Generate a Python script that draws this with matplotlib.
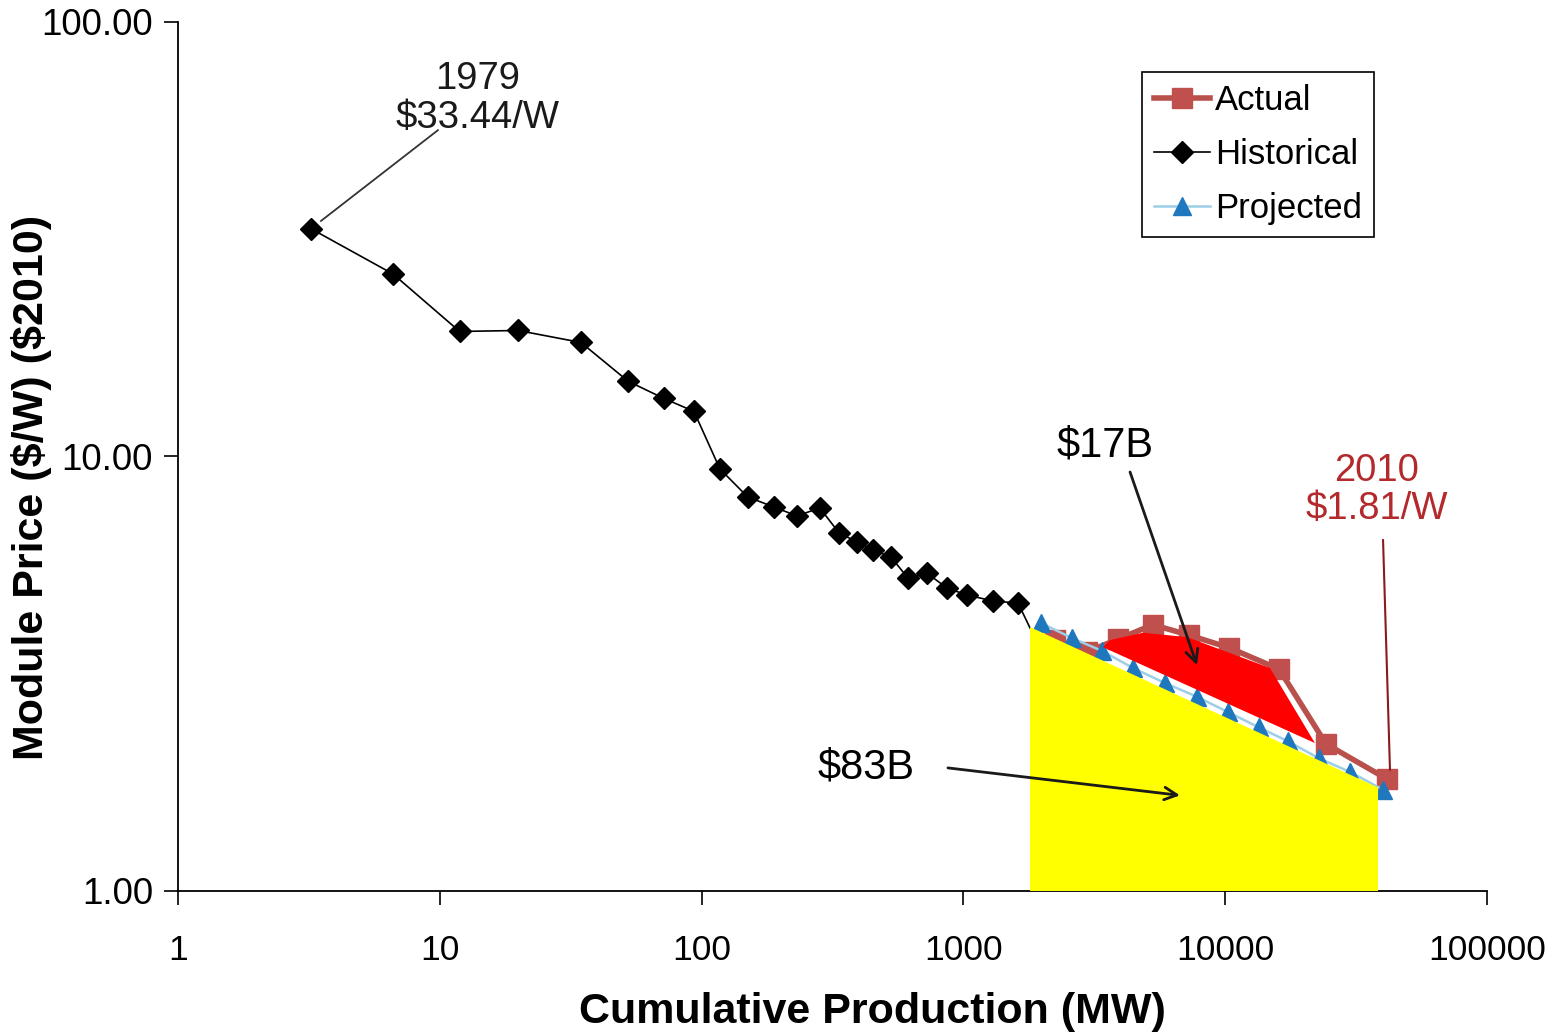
import matplotlib
matplotlib.use('Agg')
import matplotlib.pyplot as plt
from matplotlib.ticker import FixedLocator, NullLocator

plt.rcParams['font.family'] = ['Liberation Sans', 'DejaVu Sans']

# Historical learning curve (cumulative MW, $/W in $2010)
hist_mw = [3.22, 6.63, 11.9, 19.9, 34.6, 52.4, 71.8, 93.5, 117.5, 150, 189, 231,
           283, 335, 392, 452, 529, 614, 726, 865, 1032, 1297, 1617]
hist_price = [33.44, 26.3, 19.4, 19.5, 18.3, 14.9, 13.6, 12.7, 9.36, 8.07, 7.65, 7.30,
              7.61, 6.67, 6.36, 6.09, 5.87, 5.25, 5.39, 4.98, 4.80, 4.65, 4.60]
# line carries on into the shaded area without a marker
hist_tail_mw = [1617, 1797]
hist_tail_price = [4.60, 4.03]

# Actual prices
act_mw = [2239, 2966, 3898, 5300, 7280, 10350, 16070, 24270, 41500]
act_price = [3.78, 3.55, 3.80, 4.10, 3.88, 3.63, 3.24, 2.18, 1.81]

# Projected along the learning curve
proj_mw = [1978, 2600, 3382, 4443, 5890, 7800, 10250, 13460, 17380, 22820, 29970, 40080]
proj_price = [4.14, 3.82, 3.57, 3.26, 3.01, 2.80, 2.58, 2.38, 2.21, 2.02, 1.88, 1.71]

# Shaded areas ($17B excess over projection, $83B under projection)
excess_mw = [3414, 3630, 4855, 7150, 14830, 22020]
excess_price = [3.64, 3.78, 3.93, 3.84, 3.26, 2.19]
base_mw = [1797, 1797, 38350, 38350]
base_price = [1.0, 4.05, 1.73, 1.0]

fig = plt.figure(figsize=(15.56, 10.34), dpi=100)
ax = fig.add_axes([178/1556, 1 - 891/1034, (1487-178)/1556, (891-22)/1034])

ax.plot(hist_mw, hist_price, color='black', lw=1.2, marker='D', markersize=11,
        label='Historical', zorder=2)
ax.plot(hist_tail_mw, hist_tail_price, color='black', lw=1.2, zorder=2)
ax.plot(act_mw, act_price, color='#B9504C', lw=4, marker='s', markersize=15,
        markerfacecolor='#C0504D', markeredgecolor='#C0504D', label='Actual', zorder=2)
ax.plot(proj_mw, proj_price, color='#9CCFE6', lw=1.8, marker='^', markersize=13,
        markerfacecolor='#1F78BE', markeredgecolor='#1F78BE', label='Projected', zorder=2)

ax.fill(excess_mw, excess_price, color='#FF0000', lw=0, zorder=3)
ax.fill(base_mw, base_price, color='#FFFF00', lw=0, zorder=3)

ax.set_xscale('log')
ax.set_yscale('log')
ax.set_xlim(1, 100000)
ax.set_ylim(1, 100)

ax.xaxis.set_major_locator(FixedLocator([1, 10, 100, 1000, 10000, 100000]))
ax.xaxis.set_minor_locator(NullLocator())
ax.set_xticklabels(['1', '10', '100', '1000', '10000', '100000'])
ax.yaxis.set_major_locator(FixedLocator([1, 10, 100]))
ax.yaxis.set_minor_locator(NullLocator())
ax.set_yticklabels(['1.00', '10.00', '100.00'])
ax.tick_params(axis='x', labelsize=25.5, length=10, width=1.2, pad=21)
ax.tick_params(axis='y', labelsize=26.5, length=10, width=1.2, pad=8)

for s in ['top', 'right']:
    ax.spines[s].set_visible(False)
for s in ['left', 'bottom']:
    ax.spines[s].set_linewidth(1.3)

fig.text(872/1556, 1 - 1012/1034, 'Cumulative Production (MW)', fontsize=31,
         fontweight='bold', ha='center', va='center')
fig.text(32/1556, 1 - 487/1034, r'Module Price (\$/W) (\$2010)', fontsize=31,
         fontweight='bold', ha='center', va='center', rotation=90)

# Annotations
ax.text(14.0, 66.8, '1979\n\\$33.44/W', fontsize=27.5, ha='center', va='center',
        linespacing=1.1, color='#1a1a1a')
ax.annotate('', xy=(3.22, 33.44), xytext=(9.85, 56.4),
            arrowprops=dict(arrowstyle='-', color='#333333', lw=1.3, shrinkA=0, shrinkB=9))

ax.text(38000, 8.37, '2010\n\\$1.81/W', fontsize=27.5, ha='center', va='center',
        linespacing=1.1, color='#B3292C')
ax.annotate('', xy=(42600, 1.90), xytext=(40080, 6.43),
            arrowprops=dict(arrowstyle='-', color='#8B1A1A', lw=1.5, shrinkA=0, shrinkB=0))

ax.text(3475, 10.6, r'\$17B', fontsize=30, ha='center', va='center')
ax.annotate('', xy=(7800, 3.31), xytext=(4330, 9.21),
            arrowprops=dict(arrowstyle='->,head_length=0.9,head_width=0.45',
                            color='#1a1a1a', lw=2, shrinkA=0, shrinkB=0), zorder=5)

ax.text(424.7, 1.92, r'\$83B', fontsize=30, ha='center', va='center')
ax.annotate('', xy=(6715, 1.66), xytext=(873, 1.92),
            arrowprops=dict(arrowstyle='->,head_length=0.9,head_width=0.45',
                            color='#1a1a1a', lw=2, shrinkA=0, shrinkB=0), zorder=5)

handles, labels = ax.get_legend_handles_labels()
order = [1, 0, 2]
leg = ax.legend([handles[i] for i in order], [labels[i] for i in order],
                loc='upper right', bbox_to_anchor=(1374/1556, 1 - 72/1034),
                bbox_transform=fig.transFigure, borderaxespad=0, fontsize=25,
                fancybox=False, edgecolor='black', framealpha=1,
                handlelength=1.6, handletextpad=0.15, labelspacing=0.6,
                borderpad=0.35)
leg.get_frame().set_linewidth(1.2)

fig.savefig('out.png', dpi=100)
